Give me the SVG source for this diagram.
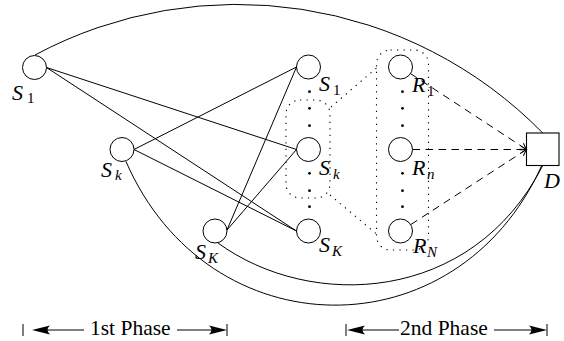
<svg xmlns="http://www.w3.org/2000/svg" width="564" height="341" viewBox="0 0 564 341">
<defs>
<style>
.node circle{fill:none;stroke:#000;stroke-width:1}
.edge{fill:none;stroke:#000;stroke-width:1}
.dash{fill:none;stroke:#000;stroke-width:1;stroke-dasharray:7.5 5.5}
.dot{fill:none;stroke:#000;stroke-width:1.1;stroke-dasharray:1.3 5.2}
.vd{fill:#000}
</style>
<marker id="arr" markerUnits="userSpaceOnUse" markerWidth="12" markerHeight="12" refX="0" refY="0" viewBox="-8 -6 10 12" orient="auto" overflow="visible">
<path d="M-6,-3.5 Q-2,-1 0,0 Q-2,1 -6,3.5" fill="none" stroke="#000" stroke-width="1" stroke-dasharray="none"/>
</marker>
</defs>
<rect x="0" y="0" width="564" height="341" fill="#fff"/>

<g id="connectors">
<path class="edge" d="M35,55 A428,428 0 0 1 542.75,133"/>
<path class="edge" d="M126,161.5 C208.4,351 456.5,353.5 541.5,166"/>
<path class="edge" d="M218,243 C310.9,310.7 472,303.8 542.5,166"/>
<line class="edge" x1="46.5" y1="67.5" x2="296.5" y2="149.5"/>
<line class="edge" x1="46.5" y1="67.5" x2="296.5" y2="231"/>
<line class="edge" x1="134" y1="149.5" x2="296.5" y2="67"/>
<line class="edge" x1="134" y1="149.5" x2="296.5" y2="231"/>
<line class="edge" x1="227" y1="230" x2="296.5" y2="67"/>
<line class="edge" x1="227" y1="230" x2="296.5" y2="149.5"/>
<line class="dash" x1="410.5" y1="73.6" x2="526.5" y2="149.5" marker-end="url(#arr)"/>
<line class="dash" x1="412.5" y1="149.5" x2="526.5" y2="149.5" marker-end="url(#arr)"/>
<line class="dash" x1="411" y1="224.4" x2="526.5" y2="149.5" marker-end="url(#arr)"/>
</g>

<g id="groups">
<rect class="dot" x="286" y="100" width="44" height="98" rx="14" ry="14"/>
<rect class="dot" x="376.5" y="50" width="52" height="200" rx="14" ry="14"/>
<line class="dot" x1="331" y1="107" x2="376.5" y2="68"/>
<line class="dot" x1="330" y1="195" x2="376.5" y2="234"/>
<circle class="vd" cx="309.5" cy="91.7" r="1.4"/>
<circle class="vd" cx="309.5" cy="108.3" r="1.4"/>
<circle class="vd" cx="309.5" cy="125.7" r="1.4"/>
<circle class="vd" cx="309.5" cy="173.3" r="1.4"/>
<circle class="vd" cx="309.5" cy="190.7" r="1.4"/>
<circle class="vd" cx="309.5" cy="206.7" r="1.4"/>
<circle class="vd" cx="402.5" cy="91.7" r="1.4"/>
<circle class="vd" cx="402.5" cy="108.3" r="1.4"/>
<circle class="vd" cx="402.5" cy="125.7" r="1.4"/>
<circle class="vd" cx="402.5" cy="173.3" r="1.4"/>
<circle class="vd" cx="402.5" cy="190.7" r="1.4"/>
<circle class="vd" cx="402.5" cy="206.7" r="1.4"/>
</g>

<g font-family="Liberation Serif, serif" fill="#000">
<g id="S1L" class="node"><circle cx="34.5" cy="67.5" r="12"/><text font-style="italic" font-size="22" x="12" y="100">S</text><text font-size="15" x="27" y="103">1</text></g>
<g id="SkL" class="node"><circle cx="122" cy="149.5" r="12"/><text font-style="italic" font-size="22" x="101" y="177">S</text><text font-style="italic" font-size="15" x="115" y="180">k</text></g>
<g id="SKL" class="node"><circle cx="215" cy="231" r="12"/><text font-style="italic" font-size="22" x="195" y="259">S</text><text font-style="italic" font-size="15" x="208" y="263">K</text></g>
<g id="S1M" class="node"><circle cx="308.5" cy="67" r="12"/><text font-style="italic" font-size="22" x="319" y="91">S</text><text font-size="15" x="333" y="95">1</text></g>
<g id="SkM" class="node"><circle cx="308.5" cy="149.5" r="12"/><text font-style="italic" font-size="22" x="319" y="175">S</text><text font-style="italic" font-size="15" x="333" y="179">k</text></g>
<g id="SKM" class="node"><circle cx="308.5" cy="231" r="12"/><text font-style="italic" font-size="22" x="319" y="252">S</text><text font-style="italic" font-size="15" x="332" y="256">K</text></g>
<g id="R1" class="node"><circle cx="400.5" cy="67" r="12"/><text font-style="italic" font-size="22" x="412" y="92">R</text><text font-size="15" x="427" y="96">1</text></g>
<g id="Rn" class="node"><circle cx="400.5" cy="149.5" r="12"/><text font-style="italic" font-size="22" x="412" y="175">R</text><text font-style="italic" font-size="15" x="427" y="179">n</text></g>
<g id="RN" class="node"><circle cx="400.5" cy="231" r="12"/><text font-style="italic" font-size="22" x="413" y="253">R</text><text font-style="italic" font-size="15" x="427" y="257">N</text></g>
<g id="D" class="node"><rect x="526.5" y="133" width="32.5" height="32.5" fill="none" stroke="#000" stroke-width="1.1"/><text font-style="italic" font-size="22" x="544" y="188">D</text></g>
</g>

<g id="phases">
<line class="edge" x1="23" y1="324" x2="23" y2="336"/>
<path d="M32,330 L50,325.5 Q45,330 50,334.5 Z" fill="#000"/>
<line class="edge" x1="40" y1="330" x2="84" y2="330"/>
<text font-family="Liberation Serif, serif" font-size="21.5" x="90" y="335">1st Phase</text>
<line class="edge" x1="177" y1="330" x2="220" y2="330"/>
<path d="M227,330 L209,325.5 Q214,330 209,334.5 Z" fill="#000"/>
<line class="edge" x1="227" y1="324" x2="227" y2="336"/>
<line class="edge" x1="346" y1="324" x2="346" y2="336"/>
<path d="M347,330 L365,325.5 Q360,330 365,334.5 Z" fill="#000"/>
<line class="edge" x1="355" y1="330" x2="399" y2="330"/>
<text font-family="Liberation Serif, serif" font-size="21.5" x="400" y="335">2nd Phase</text>
<line class="edge" x1="494" y1="330" x2="540" y2="330"/>
<path d="M547,330 L529,325.5 Q534,330 529,334.5 Z" fill="#000"/>
<line class="edge" x1="547" y1="324" x2="547" y2="336"/>
</g>
</svg>
